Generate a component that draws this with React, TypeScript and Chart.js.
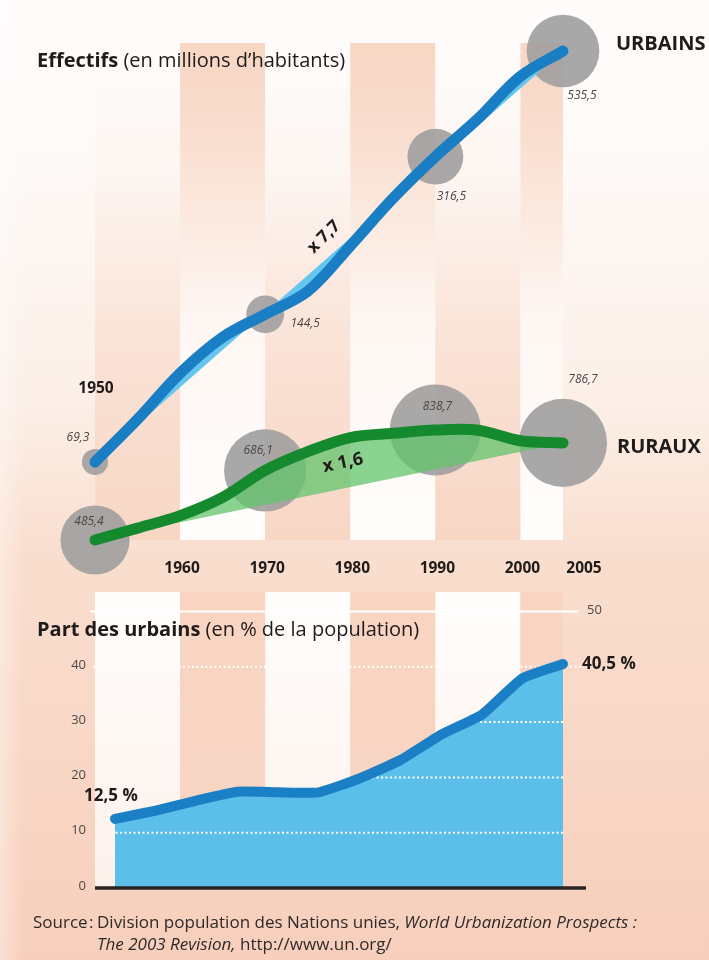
import React, { useEffect, useRef } from 'react';
import { Chart, registerables } from 'chart.js';

Chart.register(...registerables);

// ---------------- data ----------------
const years = [1950, 1955, 1960, 1965, 1970, 1975, 1980, 1985, 1990, 1995, 2000, 2005];
const urbains = [69.3, 85.7, 107.8, 128.9, 144.5, 162, 203, 257, 316.5, 382, 472, 535.5];
const ruraux = [485.4, 515, 548, 600, 686.1, 753, 808, 825, 838.7, 838, 795, 786.7];
const partUrbains = [12.5, 14.0, 15.8, 17.4, 17.3, 17.3, 19.8, 23.1, 27.7, 31.3, 37.9, 40.5];

const repereYears = [1950, 1970, 1990, 2005];
const urbainsReperes = [69.3, 144.5, 316.5, 535.5];
const rurauxReperes = [485.4, 686.1, 838.7, 786.7];
const urbainsLabels = ['69,3', '144,5', '316,5', '535,5'];
const rurauxLabels = ['485,4', '686,1', '838,7', '786,7'];

const xTickYears = [1960, 1970, 1980, 1990, 2000, 2005];
const bandYears = [1950, 1960, 1970, 1980, 1990, 2000, 2005];
const pctTicks = [0, 10, 20, 30, 40, 50];

const facteurUrbains = 'x 7,7';
const facteurRuraux = 'x 1,6';
const labelPremier = '12,5 %';
const labelDernier = '40,5 %';

// ---------------- styles ----------------
const FONT = '"Open Sans", "DejaVu Sans", sans-serif';
const INK = '#1f1b1a';
const urbLabelOffsets = [[-17, -24], [40, 9], [16, 40], [19, 45]];
const rurLabelOffsets = [[-6, -18], [-7, -20], [2, -23], [20, -63]];

const bgPlugin = {
  id: 'bgPlugin',
  beforeDraw(chart: any) {
    const { ctx, width, height } = chart;
    const xs = chart.scales.x;
    ctx.save();
    const g = ctx.createLinearGradient(0, 0, 0, height);
    g.addColorStop(0, '#fefcfb');
    g.addColorStop(0.15, '#fefaf8');
    g.addColorStop(0.42, '#fcefe7');
    g.addColorStop(0.58, '#f9dece');
    g.addColorStop(0.75, '#f9d8c7');
    g.addColorStop(1, '#f7cfbc');
    ctx.fillStyle = g;
    ctx.fillRect(0, 0, width, height);
    const gl = ctx.createLinearGradient(0, 0, 24, 0);
    gl.addColorStop(0, 'rgba(255,255,255,0.35)');
    gl.addColorStop(1, 'rgba(255,255,255,0)');
    ctx.fillStyle = gl;
    ctx.fillRect(0, 0, 24, height);

    // upper panel bands
    const t0 = 43, t1 = 540;
    for (let i = 0; i < bandYears.length - 1; i++) {
      const x0 = xs.getPixelForValue(bandYears[i]);
      const x1 = xs.getPixelForValue(bandYears[i + 1]);
      const gb = ctx.createLinearGradient(0, t0, 0, t1);
      if (i % 2 === 1) {
        gb.addColorStop(0, '#f8d6c3');
        gb.addColorStop(0.15, '#f9dccc');
        gb.addColorStop(0.55, '#fef6f2');
        gb.addColorStop(1, '#fffdfc');
      } else {
        gb.addColorStop(0, '#fefcfb');
        gb.addColorStop(0.25, '#fdf6f2');
        gb.addColorStop(0.6, '#fae3d7');
        gb.addColorStop(1, '#f8d6c4');
      }
      ctx.fillStyle = gb;
      ctx.fillRect(x0, t0, x1 - x0, t1 - t0);
    }
    // lower panel bands
    const b0 = 592, b1 = 888;
    for (let i = 0; i < bandYears.length - 1; i++) {
      const x0 = xs.getPixelForValue(bandYears[i]);
      const x1 = xs.getPixelForValue(bandYears[i + 1]);
      const gb = ctx.createLinearGradient(0, b0, 0, b1);
      if (i % 2 === 1) {
        gb.addColorStop(0, '#f8d4c1');
        gb.addColorStop(1, '#f8d6c5');
      } else {
        gb.addColorStop(0, '#fffdfc');
        gb.addColorStop(1, '#fdf1eb');
      }
      ctx.fillStyle = gb;
      ctx.fillRect(x0, b0, x1 - x0, b1 - b0);
    }
    ctx.restore();
  },
};

const topTextPlugin = {
  id: 'topText',
  afterDraw(chart: any) {
    const { ctx } = chart;
    const xs = chart.scales.x;
    const yU = chart.scales.yU;
    const yR = chart.scales.yR;
    ctx.save();
    ctx.fillStyle = INK;
    ctx.textBaseline = 'alphabetic';
    ctx.textAlign = 'left';
    ctx.font = `bold 20px ${FONT}`;
    ctx.fillText('Effectifs', 37, 67);
    const w = ctx.measureText('Effectifs').width;
    ctx.font = `20px ${FONT}`;
    ctx.fillText(' (en millions d’habitants)', 37 + w, 67);

    // series names
    ctx.font = `bold 20px ${FONT}`;
    const lu = urbains.length - 1;
    ctx.fillText('URBAINS', xs.getPixelForValue(years[lu]) + 53, yU.getPixelForValue(urbains[lu]) - 1);
    ctx.fillText('RURAUX', xs.getPixelForValue(years[lu]) + 54, yR.getPixelForValue(ruraux[lu]) + 10);

    // x ticks
    ctx.font = `bold 15.5px ${FONT}`;
    ctx.textAlign = 'center';
    xTickYears.forEach((yr, i) => {
      const dx = i === xTickYears.length - 1 ? 21 : 2;
      ctx.fillText(String(yr), xs.getPixelForValue(yr) + dx, 573);
    });
    ctx.fillText(String(years[0]), xs.getPixelForValue(years[0]) + 1, 393);

    // bubble labels
    ctx.font = `italic 12px ${FONT}`;
    ctx.fillStyle = '#4a4645';
    ctx.textBaseline = 'middle';
    repereYears.forEach((yr, i) => {
      const x = xs.getPixelForValue(yr);
      ctx.fillText(urbainsLabels[i], x + urbLabelOffsets[i][0], yU.getPixelForValue(urbainsReperes[i]) + urbLabelOffsets[i][1]);
      ctx.fillText(rurauxLabels[i], x + rurLabelOffsets[i][0], yR.getPixelForValue(rurauxReperes[i]) + rurLabelOffsets[i][1]);
    });

    // factors
    ctx.fillStyle = INK;
    ctx.save();
    ctx.translate(324, 237);
    ctx.rotate((-45 * Math.PI) / 180);
    ctx.font = `bold 17px ${FONT}`;
    ctx.fillText(facteurUrbains, 0, 0);
    ctx.restore();
    ctx.save();
    ctx.translate(343, 463);
    ctx.rotate((-12 * Math.PI) / 180);
    ctx.font = `bold 18px ${FONT}`;
    ctx.fillText(facteurRuraux, 0, 0);
    ctx.restore();
    ctx.restore();
  },
};

const bottomPlugin = {
  id: 'bottomDeco',
  beforeDatasetsDraw(chart: any) {
    const { ctx } = chart;
    const ys = chart.scales.y;
    ctx.save();
    ctx.strokeStyle = '#ffffff';
    ctx.lineWidth = 2;
    ctx.beginPath();
    ctx.moveTo(90, ys.getPixelForValue(50));
    ctx.lineTo(578, ys.getPixelForValue(50));
    ctx.stroke();
    ctx.setLineDash([2, 2.5]);
    ctx.beginPath();
    ctx.moveTo(93, ys.getPixelForValue(40));
    ctx.lineTo(584, ys.getPixelForValue(40));
    ctx.stroke();
    ctx.restore();
  },
  beforeDatasetDraw(chart: any) {
    const { ctx } = chart;
    const ys = chart.scales.y;
    ctx.save();
    ctx.globalCompositeOperation = 'source-atop';
    ctx.strokeStyle = '#ffffff';
    ctx.lineWidth = 2;
    ctx.setLineDash([2, 2.5]);
    [10, 20, 30].forEach((v) => {
      ctx.beginPath();
      ctx.moveTo(93, ys.getPixelForValue(v));
      ctx.lineTo(584, ys.getPixelForValue(v));
      ctx.stroke();
    });
    ctx.restore();
  },
  afterDraw(chart: any) {
    const { ctx } = chart;
    const xs = chart.scales.x;
    const ys = chart.scales.y;
    ctx.save();
    // axis
    ctx.strokeStyle = '#2a2420';
    ctx.lineWidth = 3.5;
    ctx.beginPath();
    ctx.moveTo(95, ys.getPixelForValue(0));
    ctx.lineTo(586, ys.getPixelForValue(0));
    ctx.stroke();

    // y labels
    ctx.font = `13px ${FONT}`;
    ctx.fillStyle = '#4d4845';
    ctx.textBaseline = 'middle';
    pctTicks.forEach((v) => {
      if (v === 50) {
        ctx.textAlign = 'left';
        ctx.fillText(String(v), 587, ys.getPixelForValue(v) - 1);
      } else {
        ctx.textAlign = 'right';
        ctx.fillText(String(v), 86, ys.getPixelForValue(v) - 2);
      }
    });

    // title
    ctx.fillStyle = INK;
    ctx.textAlign = 'left';
    ctx.textBaseline = 'alphabetic';
    ctx.font = `bold 20px ${FONT}`;
    ctx.fillText('Part des urbains', 37, 636);
    const w = ctx.measureText('Part des urbains').width;
    ctx.font = `20px ${FONT}`;
    ctx.fillText(' (en % de la population)', 37 + w, 636);

    // end labels
    ctx.font = `bold 17px ${FONT}`;
    const last = partUrbains.length - 1;
    ctx.fillText(labelPremier, xs.getPixelForValue(years[0]) - 31, ys.getPixelForValue(partUrbains[0]) - 18);
    ctx.fillText(labelDernier, xs.getPixelForValue(years[last]) + 19, ys.getPixelForValue(partUrbains[last]) + 5);

    // source
    ctx.fillStyle = '#2e2a29';
    ctx.font = `17px ${FONT}`;
    ctx.fillText('Source', 33, 928);
    ctx.fillText(':', 89, 928);
    let x = 97;
    const seg1 = 'Division population des Nations unies, ';
    ctx.fillText(seg1, x, 928);
    x += ctx.measureText(seg1).width;
    ctx.font = `italic 17px ${FONT}`;
    ctx.fillText('World Urbanization Prospects :', x, 928);
    x = 97;
    const seg2 = 'The 2003 Revision,';
    ctx.fillText(seg2, x, 950);
    x += ctx.measureText(seg2).width;
    ctx.font = `17px ${FONT}`;
    ctx.fillText(' http://www.un.org/', x, 950);
    ctx.restore();
  },
};

export default function App() {
  const topRef = useRef<HTMLCanvasElement>(null);
  const botRef = useRef<HTMLCanvasElement>(null);

  useEffect(() => {
    const li = years.length - 1;
    const top = new Chart(topRef.current as HTMLCanvasElement, {
      type: 'line',
      data: {
        datasets: [
          {
            type: 'line',
            data: years.map((x, i) => ({ x, y: urbains[i] })),
            yAxisID: 'yU',
            borderColor: '#1a7ec5',
            backgroundColor: '#66c6ef',
            borderWidth: 11,
            borderCapStyle: 'round',
            borderJoinStyle: 'round',
            tension: 0.35,
            pointRadius: 0,
            fill: 1,
            clip: false,
            order: 1,
          },
          {
            type: 'line',
            data: [
              { x: years[0], y: urbains[0] },
              { x: years[li], y: urbains[li] },
            ],
            yAxisID: 'yU',
            borderColor: 'rgba(0,0,0,0)',
            borderWidth: 1,
            pointRadius: 0,
            fill: false,
            clip: false,
            order: 8,
          },
          {
            type: 'line',
            data: years.map((x, i) => ({ x, y: ruraux[i] })),
            yAxisID: 'yR',
            borderColor: '#15892d',
            backgroundColor: 'rgba(98,196,108,0.75)',
            borderWidth: 11,
            borderCapStyle: 'round',
            borderJoinStyle: 'round',
            tension: 0.35,
            pointRadius: 0,
            fill: 3,
            clip: false,
            order: 2,
          },
          {
            type: 'line',
            data: [
              { x: years[0], y: ruraux[0] },
              { x: years[li], y: ruraux[li] },
            ],
            yAxisID: 'yR',
            borderColor: 'rgba(0,0,0,0)',
            borderWidth: 1,
            pointRadius: 0,
            fill: false,
            clip: false,
            order: 8,
          },
          {
            type: 'bubble',
            data: repereYears.map((x, i) => ({ x, y: urbainsReperes[i], r: 1.57 * Math.sqrt(urbainsReperes[i]) })),
            yAxisID: 'yU',
            backgroundColor: 'rgba(160,159,159,0.9)',
            borderWidth: 0,
            clip: false,
            order: 10,
          },
          {
            type: 'bubble',
            data: repereYears.map((x, i) => ({ x, y: rurauxReperes[i], r: 1.57 * Math.sqrt(rurauxReperes[i]) })),
            yAxisID: 'yR',
            backgroundColor: 'rgba(160,159,159,0.9)',
            borderWidth: 0,
            clip: false,
            order: 10,
          },
        ] as any,
      },
      options: {
        responsive: false,
        animation: false,
        events: [],
        layout: { autoPadding: false, padding: { left: 95, right: 146, top: 20, bottom: 380 } },
        plugins: { legend: { display: false }, tooltip: { enabled: false }, title: { display: false } },
        scales: {
          x: { type: 'linear', min: 1950, max: 2005, display: false },
          yU: { type: 'logarithmic', min: 38.53, max: 624.7, display: false },
          yR: { type: 'logarithmic', min: 397.8, max: 6447, display: false },
        },
      } as any,
      plugins: [bgPlugin, topTextPlugin],
    });

    const bot = new Chart(botRef.current as HTMLCanvasElement, {
      type: 'line',
      data: {
        datasets: [
          {
            data: years.map((x, i) => ({ x, y: partUrbains[i] })),
            borderColor: '#1b7fc5',
            backgroundColor: '#5bbfea',
            borderWidth: 10,
            borderCapStyle: 'round',
            borderJoinStyle: 'round',
            tension: 0.15,
            pointRadius: 0,
            fill: 'origin',
            clip: false,
          },
        ] as any,
      },
      options: {
        responsive: false,
        animation: false,
        events: [],
        layout: { autoPadding: false, padding: { left: 115, right: 146, top: 611.5, bottom: 72 } },
        plugins: { legend: { display: false }, tooltip: { enabled: false }, title: { display: false } },
        scales: {
          x: { type: 'linear', min: 1950, max: 2005, display: false },
          y: { type: 'linear', min: 0, max: 50, display: false },
        },
      } as any,
      plugins: [bottomPlugin],
    });

    return () => {
      top.destroy();
      bot.destroy();
    };
  }, []);

  return (
    <div style={{ position: 'absolute', left: 0, top: 0, width: 709, height: 960, overflow: 'hidden' }}>
      <canvas ref={topRef} width={709} height={960} style={{ position: 'absolute', left: 0, top: 0 }} />
      <canvas ref={botRef} width={709} height={960} style={{ position: 'absolute', left: 0, top: 0 }} />
    </div>
  );
}
